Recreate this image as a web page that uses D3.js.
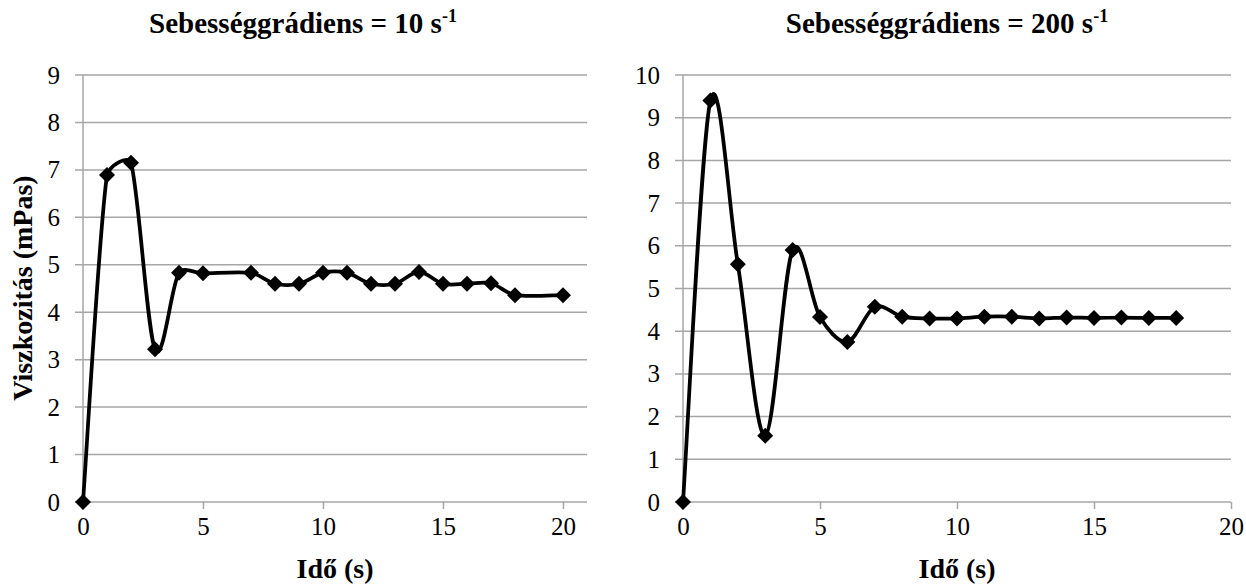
<!DOCTYPE html>
<html lang="hu">
<head>
  <meta charset="UTF-8">
  <title>Viszkozitás az idő függvényében</title>
  <script src="https://d3js.org/d3.v7.min.js"></script>
  <style>
    body, html {
      margin: 0;
      background: #fff;
    }
    svg text {
      font-family: "Liberation Serif", Tinos, "Times New Roman", Times, "DejaVu Serif", serif;
      fill: #000;
    }
  </style>
</head>
<body>
  <svg width="1246" height="586"></svg>
  <script>
    // data
    const timeLeft = [0, 1, 2, 3, 4, 5, 7, 8, 9, 10, 11, 12, 13, 14, 15, 16, 17, 18, 20];
    const viscLeft = [0, 6.89, 7.15, 3.22, 4.83, 4.82, 4.83, 4.60, 4.60, 4.83, 4.83, 4.60, 4.60, 4.85, 4.60, 4.60, 4.61, 4.36, 4.36];
    const timeRight = [0, 1, 2, 3, 4, 5, 6, 7, 8, 9, 10, 11, 12, 13, 14, 15, 16, 17, 18];
    const viscRight = [0, 9.40, 5.57, 1.55, 5.90, 4.33, 3.75, 4.57, 4.34, 4.30, 4.30, 4.34, 4.34, 4.30, 4.32, 4.31, 4.32, 4.31, 4.31];
    const xTicks = [0, 5, 10, 15, 20];
    const titles = ["Sebességgrádiens = 10 s", "Sebességgrádiens = 200 s"];
    const yTitle = "Viszkozitás (mPas)";
    const xTitle = "Idő (s)";

    const svg = d3.select("svg");
    const gridColor = "#a6a6a6";

    const panels = [
      {t: timeLeft, v: viscLeft, xMax: 21, yMax: 9, x0: 83, x1: 587, titleX: 303, title: titles[0]},
      {t: timeRight, v: viscRight, xMax: 20, yMax: 10, x0: 683, x1: 1231, titleX: 947, title: titles[1]}
    ];

    const diamond = s => `M0,${-s}L${s},0L0,${s}L${-s},0Z`;

    // catmull-rom style bezier, control arms kept within a third of each chord
    function smooth(pts) {
      const path = d3.path();
      const n = pts.length;
      const tan = pts.map((p, i) => {
        const a = pts[Math.max(i - 1, 0)], b = pts[Math.min(i + 1, n - 1)];
        return [(b[0] - a[0]) / 6, (b[1] - a[1]) / 6];
      });
      const arm = (i, j) => {
        const t = tan[i], len = Math.hypot(t[0], t[1]) || 1;
        const lim = Math.hypot(pts[j][0] - pts[i][0], pts[j][1] - pts[i][1]) / 3;
        const k = Math.min(1, lim / len);
        return [t[0] * k, t[1] * k];
      };
      path.moveTo(pts[0][0], pts[0][1]);
      for (let i = 0; i < n - 1; i++) {
        const a = pts[i], b = pts[i + 1];
        const ta = arm(i, i + 1), tb = arm(i + 1, i);
        path.bezierCurveTo(a[0] + ta[0], a[1] + ta[1], b[0] - tb[0], b[1] - tb[1], b[0], b[1]);
      }
      return path.toString();
    }

    panels.forEach(p => {
      const x = d3.scaleLinear().domain([0, p.xMax]).range([p.x0, p.x1]);
      const y = d3.scaleLinear().domain([0, p.yMax]).range([502, 75]);
      const g = svg.append("g");

      // gridlines and y labels
      const yTicks = d3.range(0, p.yMax + 1);
      g.selectAll(".grid").data(yTicks.slice(1)).enter().append("line")
        .attr("x1", p.x0 - 8).attr("x2", p.x1)
        .attr("y1", d => y(d)).attr("y2", d => y(d))
        .attr("stroke", gridColor).attr("stroke-width", 1.5);

      g.selectAll(".ylab").data(yTicks).enter().append("text")
        .attr("x", p.x0 - 23).attr("y", d => y(d)).attr("dy", "0.34em")
        .attr("text-anchor", "end").attr("font-size", 25)
        .text(d => d);

      g.append("line")
        .attr("x1", p.x0).attr("x2", p.x0).attr("y1", y(0)).attr("y2", y(p.yMax))
        .attr("stroke", gridColor).attr("stroke-width", 1.5);

      // x axis
      const xAxis = g.append("g")
        .attr("transform", `translate(0,${y(0)})`)
        .call(d3.axisBottom(x).tickValues(xTicks).tickSizeInner(7).tickSizeOuter(0).tickPadding(8));
      xAxis.attr("font-family", null);
      xAxis.select(".domain").attr("stroke", gridColor).attr("stroke-width", 1.5)
        .attr("d", `M${p.x0 - 8},0H${p.x1}`);
      xAxis.selectAll(".tick line").attr("stroke", gridColor).attr("stroke-width", 1.5);
      xAxis.selectAll(".tick text").attr("font-size", 25).attr("fill", "#000");

      const pts = p.v.map((d, j) => [x(p.t[j]), y(d)]);
      g.append("path")
        .attr("d", smooth(pts))
        .attr("fill", "none").attr("stroke", "#000").attr("stroke-width", 3.75)
        .attr("stroke-linejoin", "round");

      g.selectAll(".pt").data(p.v).enter().append("path")
        .attr("transform", (d, j) => `translate(${x(p.t[j])},${y(d)})`)
        .attr("d", diamond(8))
        .attr("fill", "#000");

      const title = g.append("text")
        .attr("x", p.titleX).attr("y", 33)
        .attr("text-anchor", "middle")
        .attr("font-size", 29).attr("font-weight", "bold");
      title.append("tspan").text(p.title);
      title.append("tspan").attr("dy", -11).attr("font-size", 18).text("-1");

      g.append("text")
        .attr("x", (p.x0 + p.x1) / 2).attr("y", 578)
        .attr("text-anchor", "middle")
        .attr("font-size", 28).attr("font-weight", "bold")
        .text(xTitle);
    });

    svg.append("text")
      .attr("transform", "translate(32,288) rotate(-90)")
      .attr("text-anchor", "middle")
      .attr("font-size", 28).attr("font-weight", "bold")
      .text(yTitle);
  </script>
</body>
</html>
